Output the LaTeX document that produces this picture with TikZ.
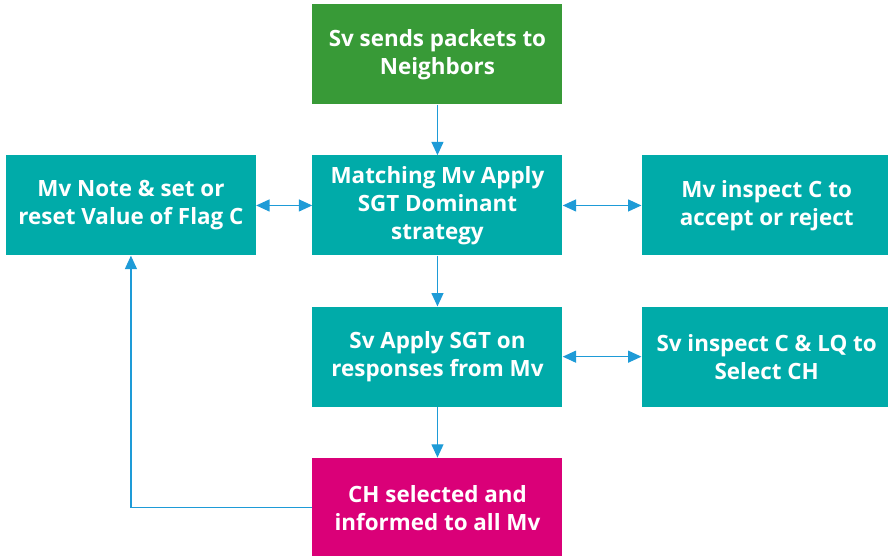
\documentclass[tikz,border=0pt]{standalone}
\usepackage{fontspec}
\setmainfont{Open Sans}
\usepackage{xcolor}
\usetikzlibrary{arrows.meta,positioning}
\definecolor{Leaf}{HTML}{389A37}
\definecolor{Lagoon}{HTML}{00ABA9}
\definecolor{Berry}{HTML}{DA0078}
\definecolor{Wire}{HTML}{1E9BD7}

\begin{document}
\begin{tikzpicture}[
  every node/.style={font=\bfseries\fontsize{16.8pt}{21pt}\selectfont,align=center,text=white},
  stage/.style={fill=Lagoon,minimum width=187.5pt,minimum height=75pt,inner sep=0pt},
  start/.style={stage,fill=Leaf},
  finish/.style={stage,fill=Berry},
  arr/.style={-{Triangle[length=10pt,width=9pt]},line width=0.9pt,Wire},
  biarr/.style={{Triangle[length=10pt,width=9pt]}-{Triangle[length=10pt,width=9pt]},line width=0.9pt,Wire}
]
\useasboundingbox (0,0) rectangle (666pt,-417pt);
\node[stage] (match) at (328.1pt,-154.1pt) {Matching Mv Apply\\SGT Dominant\\strategy};
\node[start,above=38pt of match] (send) {Sv sends packets to\\Neighbors};
\node[stage,left=42pt of match] (note) {Mv Note \& set or\\reset Value of Flag C};
\node[stage,right=59pt of match] (inspect) {Mv inspect C to\\accept or reject};
\node[stage,below=38pt of match] (apply) {Sv Apply SGT on\\responses from Mv};
\node[stage,right=59pt of apply] (select) {Sv inspect C \& LQ to\\Select CH};
\node[finish,below=38pt of apply] (chosen) {CH selected and\\informed to all Mv};
\draw[arr] (send)--(match); \draw[arr] (match)--(apply); \draw[arr] (apply)--(chosen);
\draw[biarr] (note)--(match); \draw[biarr] (match)--(inspect); \draw[biarr] (apply)--(select);
\draw[arr] (chosen.west) -| (note.south);
\end{tikzpicture}
\end{document}
